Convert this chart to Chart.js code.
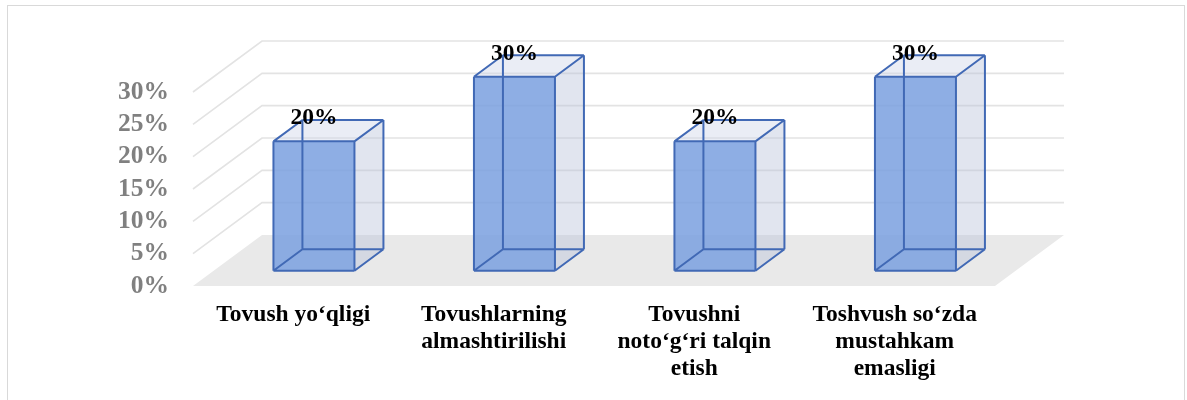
<!DOCTYPE html>
<html><head><meta charset="utf-8">
<script src="https://cdn.jsdelivr.net/npm/chart.js@4.4.0/dist/chart.umd.min.js"></script>
<style>
html,body{margin:0;padding:0;background:#fff;}
#wrap{position:relative;width:1187px;height:400px;overflow:hidden;}
#frame{position:absolute;left:7px;top:5px;width:1178px;height:430px;border:1px solid #d9d9d9;box-sizing:border-box;}
canvas{position:absolute;left:0;top:0;}
</style></head><body>
<div id="wrap"><div id="frame"></div><canvas id="c" width="1187" height="400"></canvas></div>
<script>
// ---- data ----
const categories = [
  ["Tovush yo‘qligi"],
  ["Tovushlarning", "almashtirilishi"],
  ["Tovushni", "noto‘g‘ri talqin", "etish"],
  ["Toshvush so‘zda", "mustahkam", "emasligi"]
];
const values = [20, 30, 20, 30];
const dataLabels = ["20%", "30%", "20%", "30%"];
const yTicks = [0, 5, 10, 15, 20, 25, 30];

// ---- 3D look ----
const DEPTH_X = 69, DEPTH_Y = 51;   // floor depth (oblique)
const F1 = 0.30, F2 = 0.72;         // bar front/back depth fractions
const SERIF = "'Liberation Serif','Times New Roman',serif";

const box3d = {
  id: 'box3d',
  beforeDatasetsDraw(chart) {
    const ctx = chart.ctx, ca = chart.chartArea, ys = chart.scales.y;
    const L = ca.left, R = ca.right, y0 = ys.getPixelForValue(0);
    ctx.save();
    ctx.strokeStyle = '#e3e3e3';
    ctx.lineWidth = 1.6;
    yTicks.forEach(t => {
      if (t === 0) return;
      const y = ys.getPixelForValue(t);
      ctx.beginPath();
      ctx.moveTo(L, y);
      ctx.lineTo(L + DEPTH_X, y - DEPTH_Y);
      ctx.lineTo(R + DEPTH_X, y - DEPTH_Y);
      ctx.stroke();
    });
    ctx.fillStyle = '#e9e9e9';
    ctx.beginPath();
    ctx.moveTo(L, y0);
    ctx.lineTo(R, y0);
    ctx.lineTo(R + DEPTH_X, y0 - DEPTH_Y);
    ctx.lineTo(L + DEPTH_X, y0 - DEPTH_Y);
    ctx.closePath();
    ctx.fill();
    ctx.restore();
  },
  afterDatasetsDraw(chart) {
    const ctx = chart.ctx;
    const meta = chart.getDatasetMeta(0);
    ctx.save();
    meta.data.forEach((bar, i) => {
      const w = bar.width;
      const fx = F1 * DEPTH_X, fy = F1 * DEPTH_Y;
      const bx = F2 * DEPTH_X, by = F2 * DEPTH_Y;
      const xl = bar.x - w / 2, xr = bar.x + w / 2;
      const yt = bar.y, yb = bar.base;
      const A = [xl + fx, yt - fy], B = [xr + fx, yt - fy], C = [xr + fx, yb - fy], D = [xl + fx, yb - fy];
      const A2 = [xl + bx, yt - by], B2 = [xr + bx, yt - by], C2 = [xr + bx, yb - by], D2 = [xl + bx, yb - by];
      const poly = (pts, fill) => {
        ctx.beginPath();
        ctx.moveTo(pts[0][0], pts[0][1]);
        for (let k = 1; k < pts.length; k++) ctx.lineTo(pts[k][0], pts[k][1]);
        ctx.closePath();
        ctx.fillStyle = fill;
        ctx.fill();
      };
      poly([B, B2, C2, C], 'rgba(184,194,218,0.42)');
      poly([A, A2, B2, B], 'rgba(205,212,230,0.42)');
      poly([A, B, C, D], 'rgba(124,161,224,0.86)');
      ctx.strokeStyle = '#4169b5';
      ctx.lineWidth = 2;
      ctx.lineJoin = 'round';
      const edges = [
        [A, B], [B, C], [C, D], [D, A],
        [A2, B2], [B2, C2], [C2, D2], [D2, A2],
        [A, A2], [B, B2], [C, C2], [D, D2]
      ];
      ctx.beginPath();
      edges.forEach(e => { ctx.moveTo(e[0][0], e[0][1]); ctx.lineTo(e[1][0], e[1][1]); });
      ctx.stroke();
      ctx.fillStyle = '#000';
      ctx.font = 'bold 23.5px ' + SERIF;
      ctx.textAlign = 'center';
      ctx.textBaseline = 'alphabetic';
      ctx.fillText(dataLabels[i], bar.x + fx, A2[1] + 4.5);
    });
    ctx.restore();
  }
};

new Chart(document.getElementById('c'), {
  type: 'bar',
  data: {
    labels: categories,
    datasets: [{
      data: values,
      backgroundColor: 'rgba(0,0,0,0)',
      borderWidth: 0,
      barPercentage: 0.404,
      categoryPercentage: 1.0
    }]
  },
  options: {
    responsive: false,
    animation: false,
    devicePixelRatio: 1,
    layout: { padding: { left: 0, right: 192, top: 92, bottom: 0 } },
    plugins: { legend: { display: false }, tooltip: { enabled: false } },
    scales: {
      x: {
        grid: { display: false, drawTicks: false },
        border: { display: false },
        ticks: {
          color: '#000',
          padding: 16,
          maxRotation: 0,
          autoSkip: false,
          font: { family: SERIF, size: 23.5, weight: 'bold', lineHeight: 1.14 }
        },
        afterFit(s) { s.height = 114; }
      },
      y: {
        min: 0, max: 30,
        grid: { display: false, drawTicks: false },
        border: { display: false },
        ticks: {
          stepSize: 5,
          autoSkip: false,
          padding: 24,
          color: '#808080',
          font: { family: SERIF, size: 25.5, weight: 'bold' },
          callback: v => v + '%'
        },
        afterFit(s) { s.width = 193; }
      }
    }
  },
  plugins: [box3d]
});
</script>
</body></html>
